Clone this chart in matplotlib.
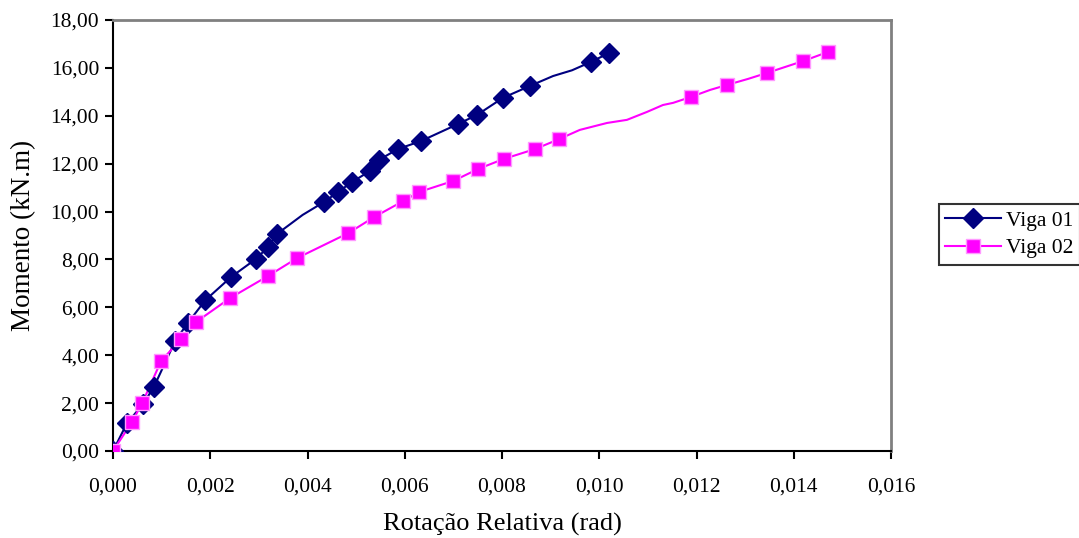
import matplotlib
matplotlib.use("Agg")
import matplotlib.pyplot as plt
from matplotlib.ticker import FuncFormatter, MultipleLocator
from matplotlib.lines import Line2D

# ---- data ----
viga01_x = [0.0, 0.00029, 0.00062, 0.00084, 0.00128, 0.00154, 0.0019, 0.00243, 0.00294,
            0.00319, 0.00337, 0.00434, 0.00463, 0.00492, 0.00529, 0.00547, 0.00586,
            0.00634, 0.0071, 0.00749, 0.00802, 0.00858, 0.00983, 0.0102]
viga01_y = [0.0, 1.17, 1.96, 2.67, 4.60, 5.35, 6.30, 7.27, 8.02, 8.52, 9.06, 10.40, 10.82,
            11.24, 11.70, 12.16, 12.61, 12.95, 13.66, 14.04, 14.75, 15.25, 16.25, 16.62]
# extra points visible on the connecting curve (no markers)
viga01_curve_x = [0.0039, 0.0083, 0.00905, 0.00944]
viga01_curve_y = [9.86, 15.00, 15.66, 15.90]

viga02_x = [0.0, 0.00039, 0.0006, 0.00099, 0.0014, 0.00171, 0.00241, 0.00319, 0.00379,
            0.00484, 0.00537, 0.00597, 0.0063, 0.007, 0.00751, 0.00804, 0.00868, 0.00918,
            0.01189, 0.01263, 0.01345, 0.0142, 0.01471]
viga02_y = [0.0, 1.21, 2.00, 3.76, 4.68, 5.39, 6.39, 7.31, 8.06, 9.10, 9.77, 10.44, 10.82,
            11.28, 11.78, 12.20, 12.61, 13.03, 14.79, 15.29, 15.79, 16.29, 16.67]
viga02_curve_x = [0.0096, 0.01016, 0.01057, 0.01098, 0.01131, 0.01152, 0.01228, 0.01306]
viga02_curve_y = [13.41, 13.70, 13.83, 14.16, 14.45, 14.54, 15.08, 15.54]

labels = ["Viga 01", "Viga 02"]
x_label = "Rotação Relativa (rad)"
y_label = "Momento (kN.m)"

def merged(xs, ys, cx, cy):
    pts = sorted(zip(list(xs) + list(cx), list(ys) + list(cy)))
    return [p[0] for p in pts], [p[1] for p in pts]

plt.rcParams['font.family'] = ['Liberation Serif', 'DejaVu Serif']

fig = plt.figure(figsize=(10.79, 5.38), dpi=100)
ax = fig.add_axes([113/1079, 1 - 451/538, (891-113)/1079, (451-20)/538])

navy = '#000080'
mag = '#ff00ff'

lx, ly = merged(viga01_x, viga01_y, viga01_curve_x, viga01_curve_y)
ax.plot(lx, ly, color=navy, lw=1.5, zorder=2)
ax.plot(viga01_x, viga01_y, ls='none', marker='D', ms=10, mfc=navy, mec=navy, zorder=3)

lx, ly = merged(viga02_x, viga02_y, viga02_curve_x, viga02_curve_y)
ax.plot(lx, ly, color=mag, lw=1.5, zorder=2)
ax.plot(viga02_x, viga02_y, ls='none', marker='s', ms=10, mfc=mag, mec='#ff99ff', mew=1, zorder=3)

ax.set_xlim(0, 0.016)
ax.set_ylim(0, 18)
ax.xaxis.set_major_locator(MultipleLocator(0.002))
ax.yaxis.set_major_locator(MultipleLocator(2))
ax.xaxis.set_major_formatter(FuncFormatter(lambda v, p: f"{v:.3f}".replace('.', ',')))
ax.yaxis.set_major_formatter(FuncFormatter(lambda v, p: f"{v:.2f}".replace('.', ',')))
ax.tick_params(axis='both', direction='out', length=6, width=1.5, labelsize=15.5, colors='black')
ax.tick_params(axis='x', pad=13)
ax.tick_params(axis='y', pad=4)

for s in ['left', 'bottom']:
    ax.spines[s].set_color('black')
    ax.spines[s].set_linewidth(1.5)
for s in ['top', 'right']:
    ax.spines[s].set_color('#808080')
    ax.spines[s].set_linewidth(2)

ax.set_xlabel(x_label, fontsize=19, labelpad=12)
ax.set_ylabel(y_label, fontsize=19.5, labelpad=10)

handles = [Line2D([], [], color=navy, lw=1.5, marker='D', ms=10, mfc=navy, mec=navy),
           Line2D([], [], color=mag, lw=1.5, marker='s', ms=10, mfc=mag, mec='#ff99ff')]
leg = fig.legend(handles, labels, loc='upper left', bbox_to_anchor=(939/1079, 1 - 204/538),
                 frameon=True, fancybox=False, edgecolor='black', fontsize=15.5,
                 handlelength=2.6, borderpad=0.3, labelspacing=0.35, handletextpad=0.2,
                 borderaxespad=0)
leg.get_frame().set_linewidth(1.5)

fig.savefig('out.png', dpi=100)
